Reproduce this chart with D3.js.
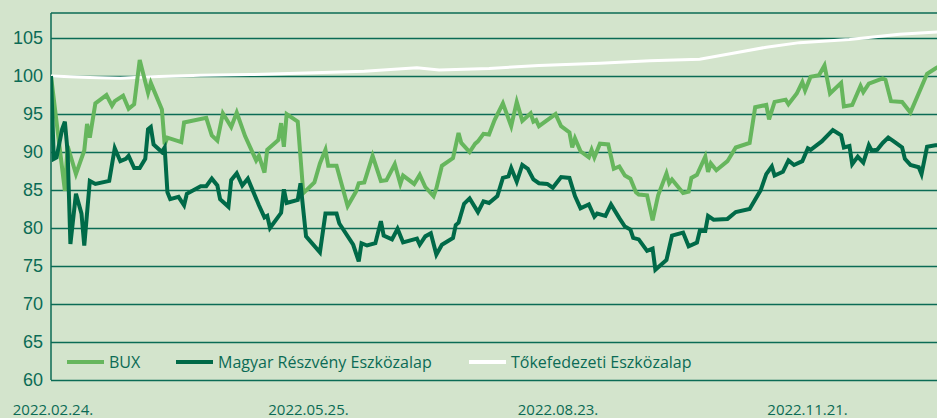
<!DOCTYPE html>
<html>
<head>
<meta charset="utf-8">
<script src="https://cdn.jsdelivr.net/npm/d3@7"></script>
<style>
  html, body { margin: 0; padding: 0; background: #d3e4cc; }
  svg { display: block; }
</style>
</head>
<body>
<div id="chart"></div>
<script>
const width = 937;
const height = 418;

// series values (date, index value)
const bux = [
  ["2022-02-24", 100.0], ["2022-03-01", 84.9], ["2022-03-02", 90.8], ["2022-03-05", 87.1],
  ["2022-03-08", 90.2], ["2022-03-09", 93.7], ["2022-03-10", 91.9], ["2022-03-12", 96.4],
  ["2022-03-16", 97.5], ["2022-03-18", 96.1], ["2022-03-19", 96.7], ["2022-03-22", 97.4],
  ["2022-03-24", 95.7], ["2022-03-26", 96.3], ["2022-03-28", 102.1], ["2022-03-31", 97.8],
  ["2022-04-01", 99.1], ["2022-04-05", 95.6], ["2022-04-06", 91.0], ["2022-04-07", 91.9],
  ["2022-04-12", 91.3], ["2022-04-13", 93.9], ["2022-04-21", 94.5], ["2022-04-23", 92.2],
  ["2022-04-25", 91.5], ["2022-04-27", 95.1], ["2022-04-30", 93.3], ["2022-05-02", 95.2],
  ["2022-05-05", 92.1], ["2022-05-09", 88.9], ["2022-05-10", 89.5], ["2022-05-12", 87.3],
  ["2022-05-13", 90.3], ["2022-05-17", 91.6], ["2022-05-18", 93.8], ["2022-05-19", 90.7],
  ["2022-05-20", 95.0], ["2022-05-24", 94.0], ["2022-05-26", 84.6], ["2022-05-30", 86.0],
  ["2022-06-01", 88.5], ["2022-06-03", 90.3], ["2022-06-04", 88.2], ["2022-06-07", 88.2],
  ["2022-06-11", 82.9], ["2022-06-14", 84.8], ["2022-06-15", 85.9], ["2022-06-17", 86.0],
  ["2022-06-20", 89.5], ["2022-06-23", 86.2], ["2022-06-25", 86.3], ["2022-06-28", 88.4],
  ["2022-06-30", 85.8], ["2022-07-01", 86.9], ["2022-07-05", 85.8], ["2022-07-07", 87.0],
  ["2022-07-09", 85.4], ["2022-07-12", 84.2], ["2022-07-13", 85.2], ["2022-07-15", 88.2],
  ["2022-07-19", 89.2], ["2022-07-21", 92.5], ["2022-07-22", 91.2], ["2022-07-25", 90.0],
  ["2022-07-27", 91.1], ["2022-07-28", 91.4], ["2022-07-30", 92.4], ["2022-08-01", 92.3],
  ["2022-08-03", 94.2], ["2022-08-06", 96.4], ["2022-08-09", 93.4], ["2022-08-11", 96.6],
  ["2022-08-13", 94.1], ["2022-08-16", 95.1], ["2022-08-17", 94.0], ["2022-08-18", 94.2],
  ["2022-08-19", 93.4], ["2022-08-25", 95.0], ["2022-08-27", 93.4], ["2022-08-30", 92.6],
  ["2022-08-31", 90.6], ["2022-09-01", 91.8], ["2022-09-03", 90.1], ["2022-09-06", 89.3],
  ["2022-09-07", 90.3], ["2022-09-08", 89.3], ["2022-09-10", 91.1], ["2022-09-13", 91.0],
  ["2022-09-15", 87.8], ["2022-09-17", 88.1], ["2022-09-19", 86.9], ["2022-09-21", 86.5],
  ["2022-09-23", 84.7], ["2022-09-24", 84.4], ["2022-09-27", 84.3], ["2022-09-29", 81.0],
  ["2022-10-01", 84.3], ["2022-10-04", 87.2], ["2022-10-05", 85.9], ["2022-10-06", 86.4],
  ["2022-10-08", 85.5], ["2022-10-10", 84.6], ["2022-10-12", 84.8], ["2022-10-13", 86.6],
  ["2022-10-15", 87.0], ["2022-10-18", 89.4], ["2022-10-19", 87.4], ["2022-10-20", 88.5],
  ["2022-10-22", 87.6], ["2022-10-26", 88.8], ["2022-10-29", 90.6], ["2022-11-03", 91.2],
  ["2022-11-05", 95.9], ["2022-11-09", 96.2], ["2022-11-10", 94.3], ["2022-11-12", 96.6],
  ["2022-11-16", 96.9], ["2022-11-17", 96.3], ["2022-11-20", 97.7], ["2022-11-22", 99.2],
  ["2022-11-23", 98.1], ["2022-11-25", 99.9], ["2022-11-28", 100.1], ["2022-11-30", 101.4],
  ["2022-12-02", 97.7], ["2022-12-06", 99.1], ["2022-12-07", 96.0], ["2022-12-10", 96.2],
  ["2022-12-13", 98.7], ["2022-12-14", 97.9], ["2022-12-16", 99.0], ["2022-12-21", 99.7],
  ["2022-12-22", 99.5], ["2022-12-24", 96.7], ["2022-12-28", 96.6], ["2022-12-31", 95.2],
  ["2023-01-04", 98.6], ["2023-01-06", 100.3], ["2023-01-09", 101.0], ["2023-01-10", 101.2]
];

const magyar = [
  ["2022-02-24", 100.0], ["2022-02-25", 89.1], ["2022-02-26", 89.3], ["2022-02-28", 93.0],
  ["2022-03-01", 94.0], ["2022-03-02", 90.0], ["2022-03-03", 77.9], ["2022-03-05", 84.5],
  ["2022-03-07", 81.9], ["2022-03-08", 77.7], ["2022-03-10", 86.2], ["2022-03-12", 85.8],
  ["2022-03-17", 86.2], ["2022-03-19", 90.5], ["2022-03-21", 88.8], ["2022-03-23", 89.1],
  ["2022-03-24", 89.5], ["2022-03-26", 87.9], ["2022-03-28", 87.9], ["2022-03-30", 89.1],
  ["2022-03-31", 93.0], ["2022-04-01", 93.3], ["2022-04-02", 91.0], ["2022-04-05", 90.0],
  ["2022-04-06", 90.6], ["2022-04-07", 84.7], ["2022-04-08", 83.8], ["2022-04-11", 84.1],
  ["2022-04-13", 83.0], ["2022-04-14", 84.5], ["2022-04-19", 85.5], ["2022-04-21", 85.5],
  ["2022-04-23", 86.5], ["2022-04-25", 85.6], ["2022-04-26", 83.8], ["2022-04-29", 82.8],
  ["2022-04-30", 86.3], ["2022-05-02", 87.2], ["2022-05-04", 85.6], ["2022-05-06", 86.5],
  ["2022-05-10", 83.0], ["2022-05-12", 81.4], ["2022-05-13", 81.6], ["2022-05-14", 80.0],
  ["2022-05-18", 82.0], ["2022-05-19", 85.1], ["2022-05-20", 83.3], ["2022-05-24", 83.7],
  ["2022-05-25", 85.9], ["2022-05-27", 78.9], ["2022-06-01", 76.8], ["2022-06-03", 81.9],
  ["2022-06-07", 81.9], ["2022-06-08", 80.6], ["2022-06-13", 77.8], ["2022-06-15", 75.6],
  ["2022-06-16", 78.0], ["2022-06-18", 77.7], ["2022-06-21", 78.0], ["2022-06-23", 80.9],
  ["2022-06-24", 79.0], ["2022-06-27", 78.5], ["2022-06-29", 79.9], ["2022-07-01", 78.1],
  ["2022-07-06", 78.6], ["2022-07-07", 77.8], ["2022-07-09", 78.9], ["2022-07-11", 79.3],
  ["2022-07-13", 76.5], ["2022-07-15", 77.8], ["2022-07-19", 78.7], ["2022-07-20", 80.4],
  ["2022-07-21", 80.7], ["2022-07-23", 83.2], ["2022-07-25", 83.9], ["2022-07-28", 82.1],
  ["2022-07-30", 83.5], ["2022-08-01", 83.3], ["2022-08-04", 84.2], ["2022-08-06", 86.6],
  ["2022-08-08", 86.8], ["2022-08-09", 87.9], ["2022-08-11", 86.1], ["2022-08-13", 88.3],
  ["2022-08-15", 87.8], ["2022-08-17", 86.4], ["2022-08-19", 85.9], ["2022-08-22", 85.8],
  ["2022-08-24", 85.3], ["2022-08-27", 86.7], ["2022-08-30", 86.6], ["2022-09-01", 84.2],
  ["2022-09-03", 82.6], ["2022-09-06", 83.1], ["2022-09-08", 81.5], ["2022-09-09", 81.9],
  ["2022-09-12", 81.6], ["2022-09-14", 83.1], ["2022-09-17", 81.3], ["2022-09-19", 80.2],
  ["2022-09-21", 79.8], ["2022-09-22", 78.7], ["2022-09-24", 78.5], ["2022-09-27", 77.0],
  ["2022-09-29", 77.3], ["2022-09-30", 74.5], ["2022-10-04", 75.8], ["2022-10-06", 79.0],
  ["2022-10-10", 79.4], ["2022-10-12", 77.6], ["2022-10-15", 78.1], ["2022-10-16", 79.6],
  ["2022-10-18", 79.6], ["2022-10-19", 81.6], ["2022-10-21", 81.1], ["2022-10-26", 81.2],
  ["2022-10-29", 82.1], ["2022-11-03", 82.5], ["2022-11-07", 85.0], ["2022-11-09", 87.1],
  ["2022-11-11", 88.1], ["2022-11-12", 86.9], ["2022-11-15", 87.4], ["2022-11-17", 88.9],
  ["2022-11-19", 88.3], ["2022-11-22", 88.8], ["2022-11-24", 90.5], ["2022-11-25", 90.3],
  ["2022-11-29", 91.4], ["2022-12-03", 92.9], ["2022-12-06", 92.2], ["2022-12-07", 90.6],
  ["2022-12-09", 90.8], ["2022-12-10", 88.4], ["2022-12-12", 89.4], ["2022-12-14", 88.6],
  ["2022-12-16", 90.9], ["2022-12-17", 90.2], ["2022-12-19", 90.3], ["2022-12-21", 91.2],
  ["2022-12-23", 91.9], ["2022-12-25", 91.4], ["2022-12-28", 90.6], ["2022-12-29", 89.1],
  ["2022-12-31", 88.3], ["2023-01-03", 88.0], ["2023-01-04", 87.1], ["2023-01-06", 90.7],
  ["2023-01-09", 90.9], ["2023-01-10", 90.9]
];

const tokefedezeti = [
  ["2022-02-24", 100.0], ["2022-03-10", 99.8], ["2022-03-21", 99.7], ["2022-04-01", 99.9],
  ["2022-04-19", 100.1], ["2022-05-07", 100.2], ["2022-05-27", 100.4], ["2022-06-17", 100.65],
  ["2022-07-06", 101.1], ["2022-07-14", 100.8], ["2022-08-01", 101.0], ["2022-08-19", 101.4],
  ["2022-09-10", 101.7], ["2022-09-28", 102.0], ["2022-10-16", 102.2], ["2022-10-28", 103.0],
  ["2022-11-09", 103.8], ["2022-11-21", 104.4], ["2022-12-09", 104.8], ["2022-12-27", 105.5],
  ["2023-01-10", 105.8]
];

const seriesNames = ["BUX", "Magyar Részvény Eszközalap", "Tőkefedezeti Eszközalap"];
const yTicks = [60, 65, 70, 75, 80, 85, 90, 95, 100, 105];
const xTickDates = ["2022-02-24", "2022-05-25", "2022-08-23", "2022-11-21"];

const bg = "#d3e4cc";
const ink = "#0b6b55";
const colors = ["#66b65d", "#006a48", "#ffffff"];

const parse = d3.timeParse("%Y-%m-%d");
const fmt = d3.timeFormat("%Y.%m.%d.");

const plotLeft = 51, plotRight = 937, plotTop = 13, plotBottom = 380;

const x = d3.scaleTime()
    .domain([parse("2022-02-24"), new Date(2023, 0, 9, 14)])
    .range([plotLeft, plotRight]);

const y = d3.scaleLinear()
    .domain([60, 108.3])
    .range([plotBottom, plotTop]);

const svg = d3.select("#chart")
    .append("svg")
    .attr("width", width)
    .attr("height", height)
    .style("font-family", "'Open Sans', sans-serif");

svg.append("rect")
    .attr("width", width)
    .attr("height", height)
    .attr("fill", bg);

// gridlines + tick labels
const yAxis = svg.append("g")
    .attr("transform", `translate(${plotLeft},0)`)
    .call(d3.axisLeft(y).tickValues(yTicks).tickSize(-(plotRight - plotLeft)).tickPadding(8));

yAxis.select(".domain").remove();
yAxis.selectAll(".tick line")
    .attr("stroke", ink)
    .attr("stroke-width", 1.5);
yAxis.selectAll(".tick text")
    .attr("fill", ink)
    .attr("font-size", 18);

// frame top + left
svg.append("line")
    .attr("x1", plotLeft).attr("x2", plotRight)
    .attr("y1", plotTop).attr("y2", plotTop)
    .attr("stroke", ink).attr("stroke-width", 1.5);
svg.append("line")
    .attr("x1", plotLeft).attr("x2", plotLeft)
    .attr("y1", plotTop).attr("y2", plotBottom)
    .attr("stroke", ink).attr("stroke-width", 1.5);

// date labels under the plot
svg.append("g")
    .selectAll("text")
    .data(xTickDates.map(parse))
    .enter().append("text")
    .attr("x", (d, i) => x(d) + (i === 0 ? 2 : 8))
    .attr("y", 415)
    .attr("text-anchor", "middle")
    .attr("font-size", 15)
    .attr("fill", ink)
    .text(d => fmt(d));

svg.append("clipPath")
    .attr("id", "plot-clip")
    .append("rect")
    .attr("x", plotLeft)
    .attr("y", 0)
    .attr("width", plotRight - plotLeft)
    .attr("height", plotBottom);

const line = d3.line()
    .x(d => x(parse(d[0])))
    .y(d => y(d[1]));

const plot = svg.append("g").attr("clip-path", "url(#plot-clip)");

plot.append("path")
    .datum(tokefedezeti)
    .attr("fill", "none")
    .attr("stroke", colors[2])
    .attr("stroke-width", 3)
    .attr("d", line);

plot.append("path")
    .datum(bux)
    .attr("fill", "none")
    .attr("stroke", colors[0])
    .attr("stroke-width", 4)
    .attr("d", line);

plot.append("path")
    .datum(magyar)
    .attr("fill", "none")
    .attr("stroke", colors[1])
    .attr("stroke-width", 4)
    .attr("d", line);

// legend
const legendX = [67, 176, 469];
const legend = svg.append("g")
    .selectAll("g")
    .data(seriesNames)
    .enter().append("g")
    .attr("transform", (d, i) => `translate(${legendX[i]},362)`);

legend.append("line")
    .attr("x1", 0).attr("x2", 37)
    .attr("stroke", (d, i) => colors[i])
    .attr("stroke-width", 4);

legend.append("text")
    .attr("x", 42)
    .attr("dy", "0.35em")
    .attr("font-size", 16)
    .attr("fill", ink)
    .text(d => d);
</script>
</body>
</html>
